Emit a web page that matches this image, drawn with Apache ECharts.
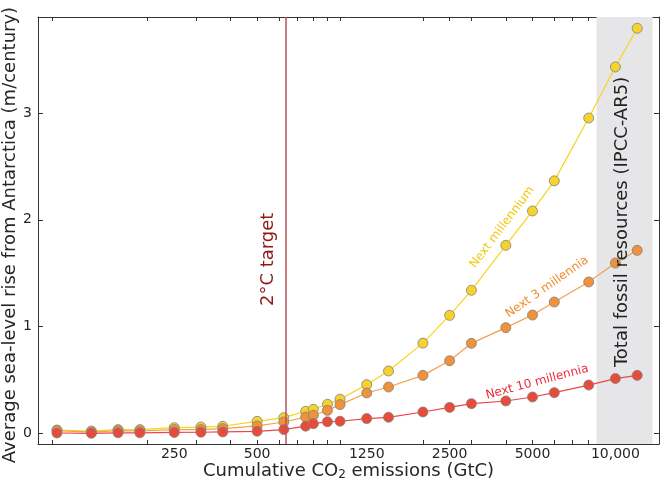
<!DOCTYPE html>
<html>
<head>
<meta charset="utf-8">
<script src="https://cdn.jsdelivr.net/npm/echarts@6/dist/echarts.min.js"></script>
<style>
html,body{margin:0;padding:0;background:#fff;}
#chart{width:660px;height:487px;}
</style>
</head>
<body>
<div id="chart"></div>
<script>
// Cumulative emissions (GtC) for each scenario
const emissions = [93.75,125,156.25,187.5,250,312.5,375,500,625,750,800,900,1000,1250,1500,2000,2500,3000,4000,5000,6000,8000,10000,12000];
// Average sea-level rise from Antarctica (m/century)
const nextMillennium = [0.031,0.022,0.035,0.035,0.053,0.059,0.066,0.112,0.147,0.207,0.225,0.272,0.320,0.456,0.584,0.845,1.105,1.340,1.761,2.083,2.365,2.954,3.432,3.794];
const next3Millennia = [0.025,0.012,0.025,0.022,0.035,0.035,0.044,0.069,0.106,0.152,0.169,0.215,0.269,0.378,0.434,0.543,0.680,0.843,0.990,1.108,1.230,1.418,1.595,1.714];
const next10Millennia = [0.003,0.000,0.005,0.005,0.008,0.010,0.013,0.019,0.035,0.067,0.090,0.108,0.113,0.138,0.150,0.200,0.243,0.278,0.303,0.340,0.381,0.452,0.513,0.543];
// Axis ticks
const xTickLabels = [250,500,1250,2500,5000,10000];
const xMinorTicks = [90,200,300,400,500,600,700,800,900,1000,2000,2500,3000,4000,5000,6000,7000,8000,9000,10000];
const yTickLabels = [0,1,2,3];
// Reference markers
const target2C = 635;
const fossilResources = [8540, 13640];

const FONT = "'DejaVu Sans', sans-serif";
const TXT = '#262626';

const chart = echarts.init(document.getElementById('chart'));

function mkSeries(name, vals, line, fill, extra) {
  return Object.assign({
    name: name,
    type: 'line',
    data: emissions.map((x, i) => [x, vals[i]]),
    symbol: 'circle',
    symbolSize: 10,
    lineStyle: {color: line, width: 1.2},
    itemStyle: {color: fill, borderColor: '#808080', borderWidth: 0.8},
    emphasis: {disabled: true},
    animation: false
  }, extra || {});
}

const axisLineStyle = {show: true, onZero: false, lineStyle: {color: '#333', width: 1}};

chart.setOption({
  animation: false,
  grid: {left: 38, right: 1, top: 17, bottom: 43, containLabel: false, outerBoundsMode: 'none'},
  xAxis: [{
    type: 'log', min: 80, max: 14400, position: 'bottom',
    axisLine: axisLineStyle,
    axisTick: {show: true, inside: true, length: 4, customValues: xMinorTicks, lineStyle: {color: '#333'}},
    axisLabel: {
      customValues: xTickLabels, margin: 3, fontSize: 14, fontFamily: FONT, color: TXT,
      formatter: v => (Math.round(v) === 10000 ? '10,000' : String(Math.round(v)))
    },
    splitLine: {show: false}, minorTick: {show: false},
    name: 'Cumulative CO{sub|2} emissions (GtC)',
    nameLocation: 'middle', nameGap: 17, nameMoveOverlap: false,
    nameTextStyle: {fontSize: 18, fontFamily: FONT, color: TXT,
      rich: {sub: {fontSize: 12, fontFamily: FONT, color: TXT, verticalAlign: 'bottom', padding: [8, 0, 0, 0]}}}
  }, {
    type: 'log', min: 80, max: 14400, position: 'top',
    axisLine: axisLineStyle,
    axisTick: {show: true, inside: true, length: 4, customValues: xMinorTicks, lineStyle: {color: '#333'}},
    axisLabel: {show: false}, splitLine: {show: false}
  }],
  yAxis: [{
    type: 'value', min: -0.1, max: 3.9, position: 'left',
    axisLine: axisLineStyle,
    axisTick: {show: true, inside: true, length: 5, customValues: yTickLabels, lineStyle: {color: '#333'}},
    axisLabel: {customValues: yTickLabels, margin: 6, fontSize: 14, fontFamily: FONT, color: TXT},
    splitLine: {show: false},
    name: 'Average sea-level rise from Antarctica (m/century)',
    nameLocation: 'middle', nameGap: 19, nameMoveOverlap: false,
    nameTextStyle: {fontSize: 18, fontFamily: FONT, color: TXT, padding: [0, 9, 0, 0]}
  }, {
    type: 'value', min: -0.1, max: 3.9, position: 'right',
    axisLine: axisLineStyle,
    axisTick: {show: true, inside: true, length: 5, customValues: yTickLabels, lineStyle: {color: '#333'}},
    axisLabel: {show: false}, splitLine: {show: false}
  }],
  series: [
    mkSeries('Next millennium', nextMillennium, '#f8d41c', '#f6d22e', {
      markArea: {
        silent: true,
        itemStyle: {color: '#e6e6e8'},
        data: [[{xAxis: fossilResources[0]}, {xAxis: fossilResources[1]}]]
      },
      markLine: {
        silent: true, symbol: 'none', label: {show: false},
        lineStyle: {color: '#b8545e', width: 1.5, type: 'solid'},
        data: [{xAxis: target2C}]
      }
    }),
    mkSeries('Next 3 millennia', next3Millennia, '#f4a04c', '#f0913c'),
    mkSeries('Next 10 millennia', next10Millennia, '#f0444a', '#e94b3b')
  ]
});

function px(x, y) { return chart.convertToPixel({xAxisIndex: 0, yAxisIndex: 0}, [x, y]); }
function label(text, pos, deg, color, size) {
  return {
    type: 'text', x: pos[0], y: pos[1], rotation: deg * Math.PI / 180, z: 100,
    style: {text: text, fill: color, font: size + 'px ' + FONT,
      textAlign: 'center', textVerticalAlign: 'middle', align: 'center', verticalAlign: 'middle'}
  };
}

chart.setOption({
  graphic: [
    label('Next millennium', px(3880, 1.93), 53, '#f2c80f', 12),
    label('Next 3 millennia', px(5650, 1.37), 35, '#f08a2a', 12),
    label('Next 10 millennia', px(5200, 0.48), 15, '#ee2a3c', 12),
    label('2°C target', px(551, 1.63), 90, '#8b1a1a', 18),
    label('Total fossil resources (IPCC-AR5)', px(10580, 1.98), 90, '#222', 18)
  ]
});
</script>
</body>
</html>
